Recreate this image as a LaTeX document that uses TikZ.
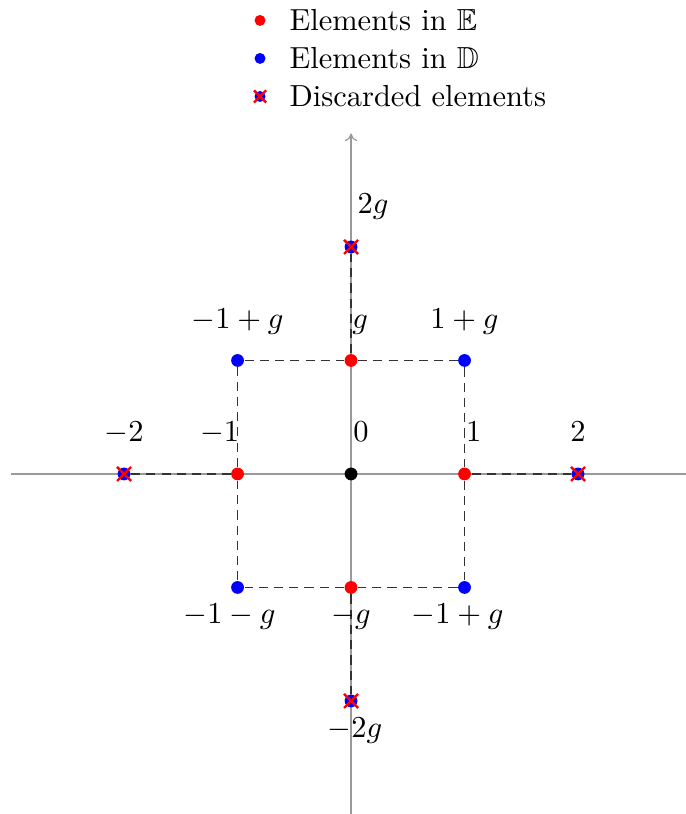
\documentclass[tikz,border=0pt]{standalone}
\usepackage{amsmath,amssymb}
\usepackage{xcolor}
\usepackage{tikz}
\usetikzlibrary{
  shapes.misc,
  arrows.meta,
  positioning
}
\definecolor{axisgray}{HTML}{9A9A9A}
\tikzstyle{axisline} = [draw=axisgray, line width=0.4pt, -{To[length=2.5pt,width=4pt]}]
\tikzstyle{gridline} = [densely dashed, line width=0.4pt, draw=black!80]
\tikzstyle{elemE} = [circle, fill=red, inner sep=0pt, minimum size=4.2pt]
\tikzstyle{elemD} = [circle, fill=blue, inner sep=0pt, minimum size=4.2pt]
\tikzstyle{elemO} = [circle, fill=black, inner sep=0pt, minimum size=4.2pt]
\tikzstyle{discard} = [cross out, draw=red, line width=0.8pt, inner sep=0pt, minimum size=3.8pt]
\tikzstyle{ptlabel} = [inner sep=0pt, text height=1.5ex, text depth=0pt]
\tikzstyle{legtext} = [inner sep=0pt, text height=1.5ex, text depth=0pt, anchor=west]

\begin{document}
\begin{tikzpicture}[x=1.309cm, y=1.309cm]
\useasboundingbox (-3.093,-2.996) rectangle (2.943,4.176);

% --- Axes ---
\coordinate (xmin) at (-3,0);
\coordinate (xmax) at (3.1,0);
\coordinate (ymin) at (0,-3);
\coordinate (ymax) at (0,3);
\draw[axisline] (xmin) -- (xmax);
\draw[axisline] (ymin) -- (ymax);

% --- Nodes ---
\node[elemO] (o) at (0,0) {};
\node[elemE] (eR) at (1,0) {};
\node[elemE] (eL) at (-1,0) {};
\node[elemE] (eU) at (0,1) {};
\node[elemE] (eB) at (0,-1) {};
\node[elemD] (dUR) at (1,1) {};
\node[elemD] (dUL) at (-1,1) {};
\node[elemD] (dLL) at (-1,-1) {};
\node[elemD] (dLR) at (1,-1) {};
\node[elemD] (xR) at (2,0) {};
\node[elemD] (xL) at (-2,0) {};
\node[elemD] (xU) at (0,2) {};
\node[elemD] (xB) at (0,-2) {};
\node[discard] (cR) at (xR) {};
\node[discard] (cL) at (xL) {};
\node[discard] (cU) at (xU) {};
\node[discard] (cB) at (xB) {};

% --- Dashed links ---
\draw[gridline] (dUL) -- (eU) -- (dUR) -- (eR) -- (dLR) -- (eB) -- (dLL) -- (eL) -- (dUL);
\draw[gridline] (xL) -- (eL);
\draw[gridline] (eR) -- (xR);
\draw[gridline] (eU) -- (xU);
\draw[gridline] (eB) -- (xB);

% --- Labels ---
\node[ptlabel, above=8pt of xL] (lm2) {$-2$};
\node[ptlabel, above=8pt of eL, xshift=-5.9pt] (lm1) {$-1$};
\node[ptlabel, above=8pt of o, xshift=3.3pt] (l0) {$0$};
\node[ptlabel, above=8pt of eR, xshift=3pt] (l1) {$1$};
\node[ptlabel, above=8pt of xR] (l2) {$2$};
\node[ptlabel, above=8pt of dUL] (lUL) {$-1+g$};
\node[ptlabel, above=8pt of eU, xshift=3pt] (lg) {$g$};
\node[ptlabel, above=8pt of dUR] (lUR) {$1+g$};
\node[ptlabel, above=8.5pt of xU, xshift=7.2pt] (l2g) {$2g$};
\node[ptlabel, below=3pt of dLL, xshift=-2.6pt] (lLL) {$-1-g$};
\node[ptlabel, below=3pt of eB] (lmg) {$-g$};
\node[ptlabel, below=3pt of dLR, xshift=-2.3pt] (lLR) {$-1+g$};
\node[ptlabel, below=3pt of xB, xshift=1.3pt] (lm2g) {$-2g$};

% --- Legend ---
\node[elemE, minimum size=3.6pt] (keyE) at (-0.802,3.996) {};
\node[elemD, minimum size=3.6pt] (keyD) at (-0.802,3.661) {};
\node[elemD, minimum size=3.6pt] (keyX) at (-0.802,3.326) {};
\node[discard, minimum size=3.2pt] (keyC) at (keyX) {};
\node[legtext, right=7.5pt of keyE] (txtE) {Elements in $\mathbb{E}$};
\node[legtext, right=7.5pt of keyD] (txtD) {Elements in $\mathbb{D}$};
\node[legtext, right=7.5pt of keyX] (txtX) {Discarded elements};

\end{tikzpicture}
\end{document}
